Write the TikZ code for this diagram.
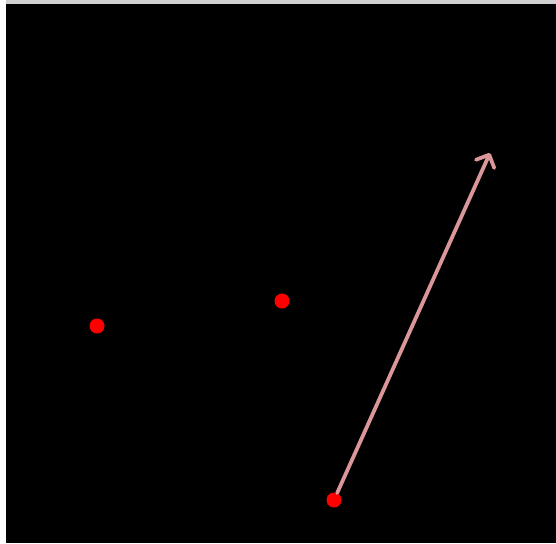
\documentclass[tikz,border=0pt]{standalone}
\usetikzlibrary{arrows.meta}
\definecolor{arrowpink}{RGB}{218,150,152}
\definecolor{stripgrey}{RGB}{208,208,208}
\begin{document}
\begin{tikzpicture}[x=1pt,y=-1pt,
  dot/.style={circle,fill=red,inner sep=0pt,minimum size=15pt},
  vec/.style={draw=arrowpink,line width=3.8pt,line cap=round,-{Straight Barb[length=10pt,width=20pt,line width=3.8pt,round]}}]
\useasboundingbox (0,0) rectangle (556,543);
\fill[white] (0,0) rectangle (556,543);
\fill[stripgrey] (6,0) rectangle (556,4);
\fill[black] (6,4) rectangle (556,543);
\node[dot] (a) at (97,326) {};
\node[dot] (b) at (282,301) {};
\node[dot] (c) at (334,500) {};
\coordinate (tip) at (490,153);
\draw[vec] (c) -- (tip);
\end{tikzpicture}
\end{document}
